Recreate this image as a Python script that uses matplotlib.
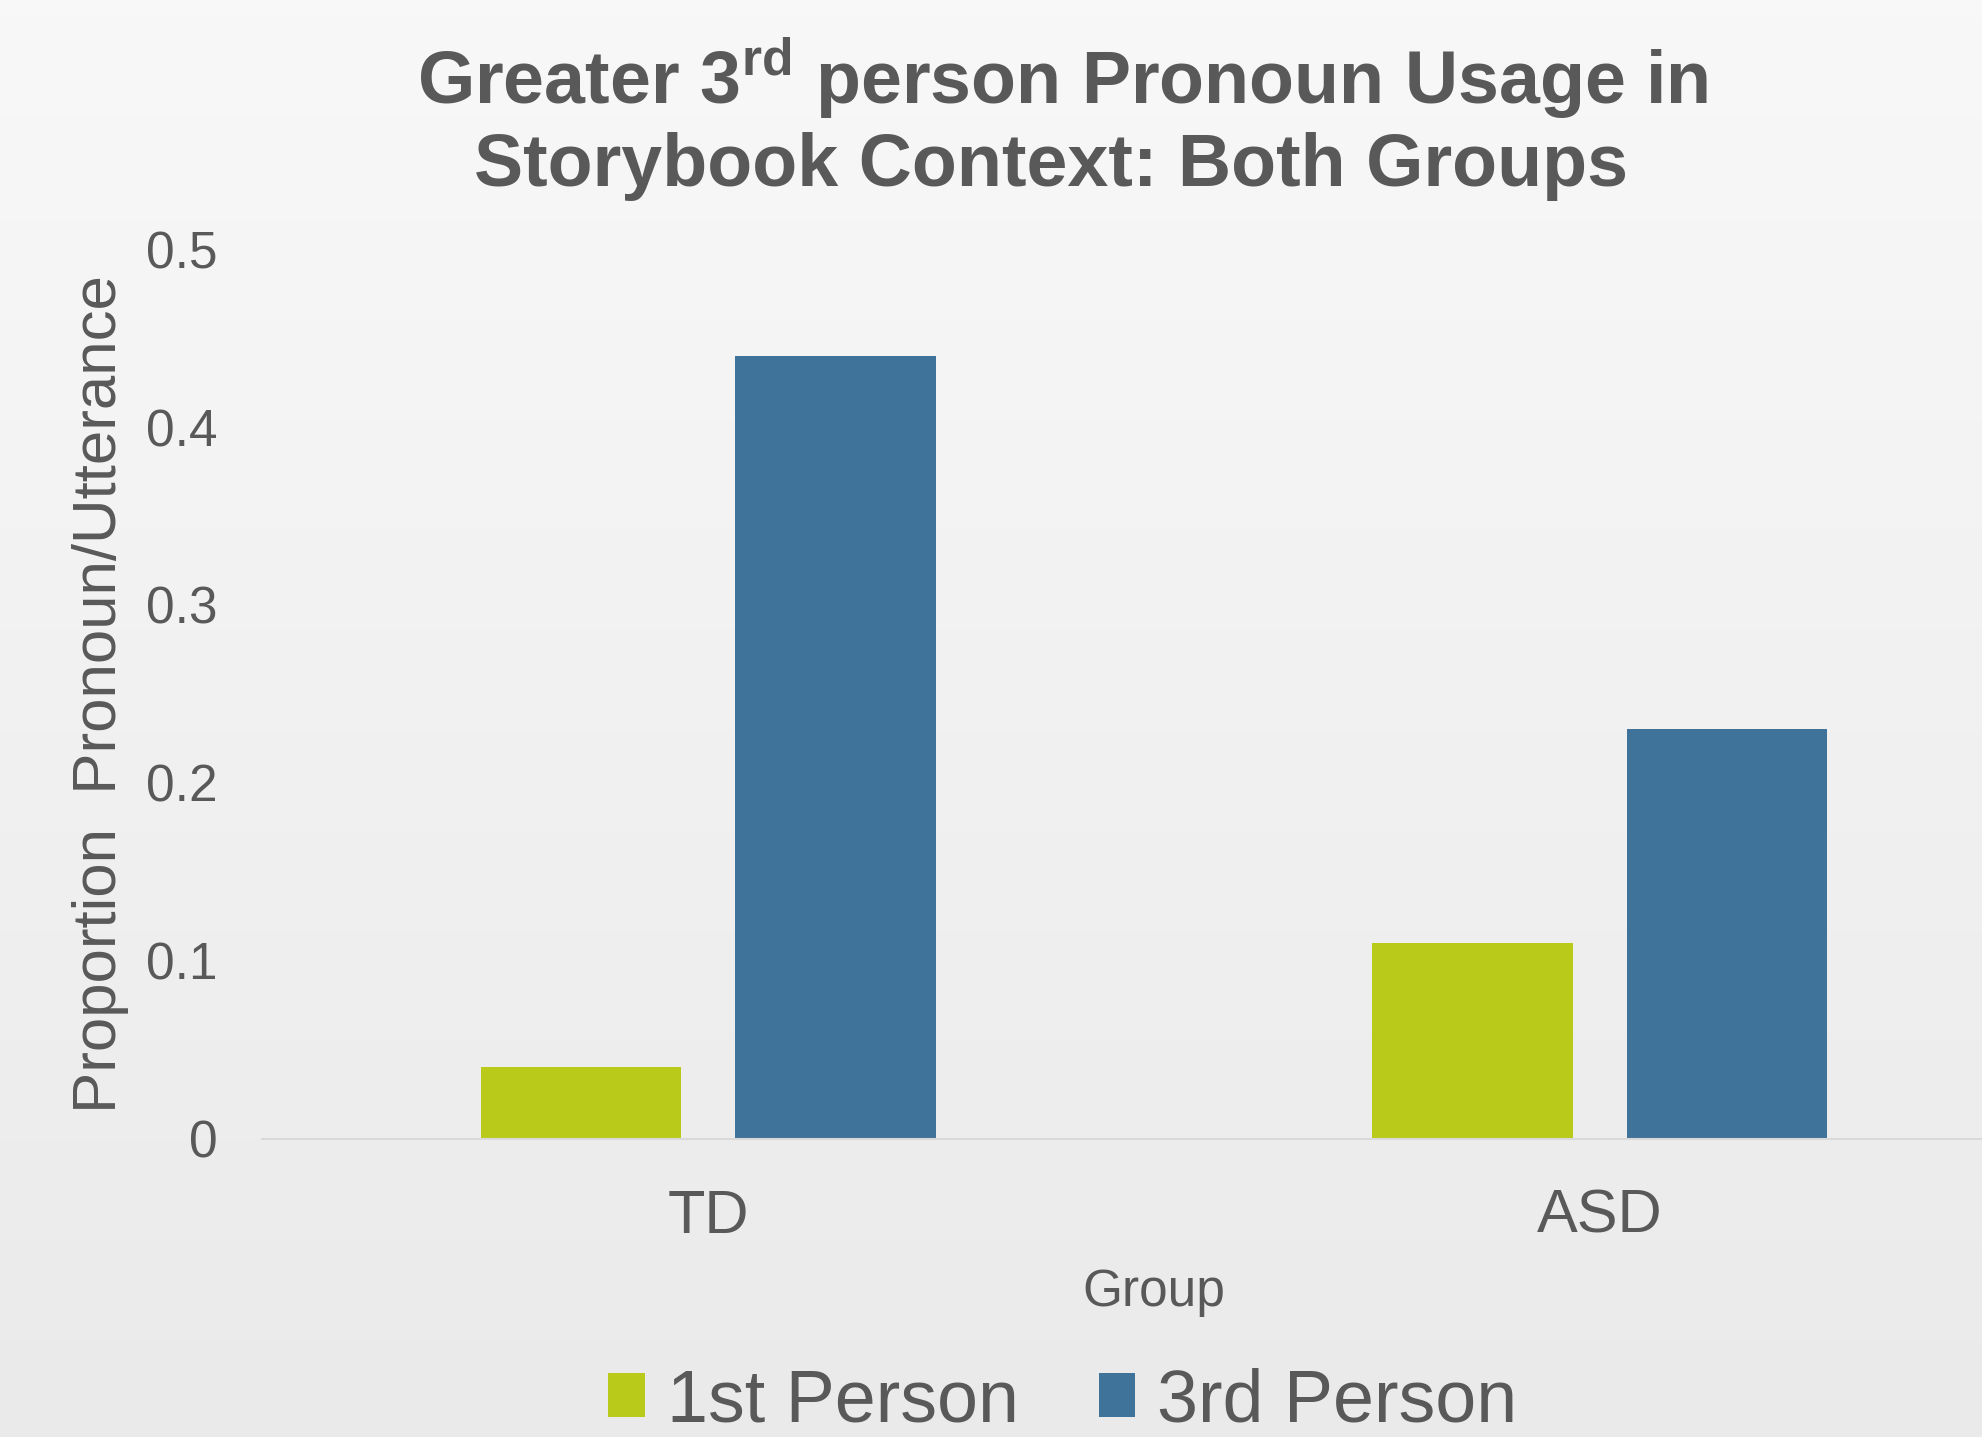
import numpy as np
import matplotlib.pyplot as plt
from matplotlib.patches import Patch

# data
groups = ['TD', 'ASD']
first_person = [0.04, 0.11]
third_person = [0.44, 0.23]
series_names = ['1st Person', '3rd Person']
colors = ['#B9CA1A', '#407399']
yticks = [0, 0.1, 0.2, 0.3, 0.4, 0.5]

txt = '#595959'
plt.rcParams['font.family'] = ['Liberation Sans', 'DejaVu Sans']
plt.rcParams['mathtext.fontset'] = 'custom'
plt.rcParams['mathtext.rm'] = 'Liberation Sans:bold'

fig = plt.figure(figsize=(19.83, 14.37), dpi=100)

# light grey vertical gradient background
bg = fig.add_axes([0, 0, 1, 1], zorder=-10)
grad = np.linspace(0.973, 0.918, 256).reshape(-1, 1)
bg.imshow(np.dstack([grad, grad, grad]), aspect='auto', extent=[0, 1, 0, 1])
bg.set_axis_off()

ax = fig.add_axes([0.1323, 0.2077, 0.8993, 0.6189])
ax.set_facecolor('none')

x = np.arange(len(groups))
w = 0.225
off = 0.1425
ax.bar(x - off, first_person, w, color=colors[0])
ax.bar(x + off, third_person, w, color=colors[1])

ax.set_xlim(-0.5, 1.5)
ax.set_ylim(0, 0.5)
ax.set_yticks(yticks)
ax.set_yticklabels(['0', '0.1', '0.2', '0.3', '0.4', '0.5'])
ax.set_xticks(x)
ax.set_xticklabels(groups)
ax.tick_params(axis='y', length=0, pad=32, labelsize=37, labelcolor=txt)
ax.tick_params(axis='x', length=0, pad=36, labelsize=44, labelcolor=txt)

for s in ['top', 'right', 'left']:
    ax.spines[s].set_visible(False)
ax.spines['bottom'].set_color('#D9D9D9')
ax.spines['bottom'].set_linewidth(1.5)

# title, two lines
fig.text(0.5357, 0.9278, r'Greater 3$^{\mathrm{rd}}$ person Pronoun Usage in',
         ha='center', va='baseline', fontsize=53, fontweight='bold', color=txt)
fig.text(0.530, 0.8706, 'Storybook Context: Both Groups',
         ha='center', va='baseline', fontsize=53, fontweight='bold', color=txt)

fig.text(0.0509, 0.5167, 'Proportion  Pronoun/Utterance', rotation=90,
         ha='center', va='center', fontsize=44.5, color=txt)
fig.text(0.5816, 0.1005, 'Group', ha='center', va='center', fontsize=37, color=txt)

handles = [Patch(facecolor=c, edgecolor='none') for c in colors]
leg = fig.legend(handles, series_names, loc='center', bbox_to_anchor=(0.536, 0.0246),
                 ncol=2, frameon=False, fontsize=53, handlelength=0.5,
                 handleheight=0.55, handletextpad=0.3, columnspacing=1.08)
for t in leg.get_texts():
    t.set_color(txt)

fig.savefig('out.png', dpi=100)
